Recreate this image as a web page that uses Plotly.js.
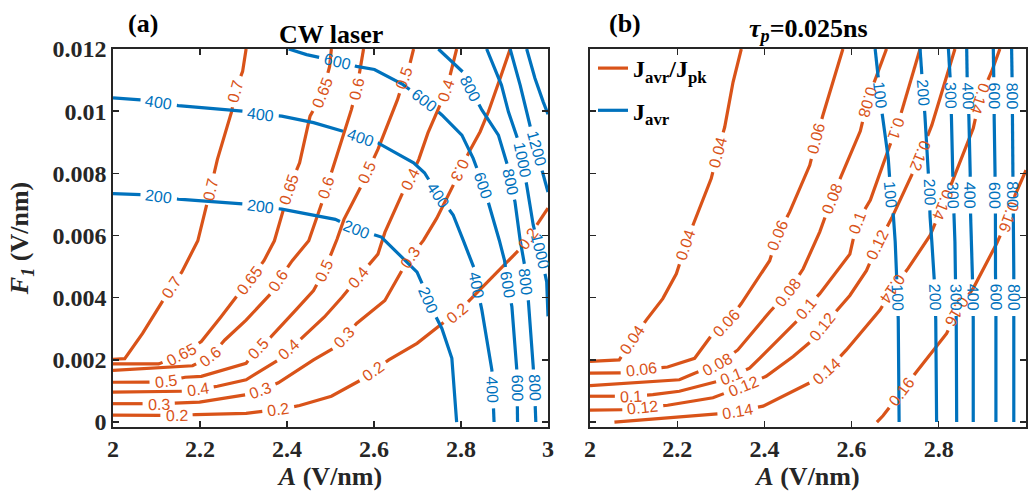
<!DOCTYPE html>
<html>
<head>
<meta charset="utf-8">
<script src="https://cdn.plot.ly/plotly-3.0.1.min.js"></script>
<style>
  html, body { margin: 0; padding: 0; background: #ffffff; }
  #chart { width: 1031px; height: 493px; }
</style>
</head>
<body>
<div id="chart"></div>
<script>
// Axis ticks
const xTickVals = [2, 2.2, 2.4, 2.6, 2.8, 3];
const xTickText = ['2', '2.2', '2.4', '2.6', '2.8', '3'];
const yTickVals = [0, 0.002, 0.004, 0.006, 0.008, 0.01, 0.012];
const yTickText = ['0', '0.002', '0.004', '0.006', '0.008', '0.01', '0.012'];

// ---- Panel (a), CW laser: J_avr/J_pk contour paths, vertices [A, F1] ----
const a_r020 = [[2.0,0.00022],[2.10,0.00022],[2.146,0.0002],[2.19,0.00024],[2.306,0.00028],[2.38,0.0004],[2.429,0.00053],[2.502,0.00083],[2.56,0.00126],[2.597,0.00163],[2.634,0.0020],[2.699,0.00253],[2.750,0.0031],[2.79,0.0035],[2.824,0.00398],[2.92,0.00532],[2.955,0.0059],[2.977,0.0064],[3.0,0.00688]];
const a_r030 = [[2.0,0.00059],[2.068,0.00059],[2.105,0.00057],[2.158,0.00062],[2.199,0.00064],[2.306,0.00088],[2.339,0.00103],[2.38,0.00126],[2.461,0.0020],[2.502,0.00232],[2.531,0.00272],[2.56,0.00317],[2.625,0.00391],[2.65,0.00455],[2.683,0.0053],[2.714,0.00585],[2.744,0.00655],[2.779,0.00752],[2.798,0.0081],[2.821,0.00875],[2.844,0.00934],[2.863,0.00998],[2.890,0.01106],[2.913,0.012]];
const a_r040 = [[2.0,0.00096],[2.162,0.00099],[2.195,0.00104],[2.24,0.00115],[2.306,0.00136],[2.371,0.00189],[2.404,0.00232],[2.437,0.00274],[2.486,0.00338],[2.527,0.00402],[2.564,0.00466],[2.609,0.0054],[2.625,0.0061],[2.642,0.00663],[2.658,0.00717],[2.683,0.00781],[2.703,0.00845],[2.724,0.0093],[2.747,0.01004],[2.766,0.01066],[2.779,0.01138],[2.79,0.012]];
const a_r050 = [[2.0,0.00128],[2.076,0.00128],[2.121,0.00131],[2.166,0.00144],[2.203,0.00147],[2.306,0.00189],[2.334,0.00237],[2.363,0.00274],[2.42,0.0036],[2.461,0.00423],[2.486,0.00487],[2.515,0.00588],[2.531,0.00652],[2.56,0.00727],[2.584,0.00802],[2.609,0.00877],[2.654,0.01037],[2.67,0.01107],[2.683,0.01155],[2.691,0.012]];
const a_r060 = [[2.0,0.00166],[2.183,0.00181],[2.224,0.00211],[2.257,0.00264],[2.306,0.00328],[2.363,0.00413],[2.38,0.00455],[2.412,0.00519],[2.45,0.00583],[2.478,0.00695],[2.49,0.00754],[2.502,0.00802],[2.527,0.00909],[2.548,0.01005],[2.56,0.0107],[2.568,0.01134],[2.576,0.012]];
const a_r065 = [[2.0,0.00187],[2.105,0.00187],[2.158,0.00216],[2.203,0.00259],[2.248,0.00338],[2.289,0.00413],[2.314,0.00455],[2.347,0.00519],[2.371,0.00583],[2.388,0.00663],[2.404,0.00749],[2.429,0.00834],[2.453,0.00984],[2.482,0.01059],[2.498,0.01144],[2.502,0.012]];
const a_r070 = [[2.0,0.00202],[2.027,0.00204],[2.068,0.00285],[2.101,0.0036],[2.134,0.00434],[2.158,0.00482],[2.195,0.00583],[2.211,0.00674],[2.224,0.00749],[2.240,0.00845],[2.273,0.0100],[2.281,0.01064],[2.298,0.01128],[2.306,0.012]];

// Panel (a): J_avr contour paths
const a_j200 = [[2.0,0.00735],[2.056,0.00733],[2.105,0.00724],[2.15,0.00717],[2.298,0.00702],[2.339,0.00693],[2.388,0.00685],[2.511,0.00652],[2.56,0.0062],[2.617,0.00595],[2.699,0.00482],[2.707,0.0046],[2.724,0.0039],[2.756,0.00301],[2.779,0.00205],[2.790,0.0]];
const a_j400 = [[2.0,0.01043],[2.056,0.01038],[2.105,0.01027],[2.15,0.01018],[2.298,0.0100],[2.339,0.00989],[2.388,0.00984],[2.461,0.00963],[2.519,0.00941],[2.568,0.00914],[2.609,0.00898],[2.691,0.00834],[2.716,0.00802],[2.748,0.0073],[2.782,0.00666],[2.805,0.00585],[2.830,0.00495],[2.836,0.0044],[2.848,0.0036],[2.871,0.00167],[2.873,0.00103],[2.876,0.0]];
const a_j600 = [[2.404,0.012],[2.445,0.01182],[2.515,0.0116],[2.56,0.01144],[2.601,0.01134],[2.666,0.01086],[2.716,0.01035],[2.756,0.00988],[2.802,0.00923],[2.828,0.00848],[2.851,0.00762],[2.867,0.00687],[2.888,0.00585],[2.90,0.0052],[2.908,0.0044],[2.917,0.00371],[2.928,0.00173],[2.929,0.0011],[2.930,0.0]];
const a_j800 = [[2.748,0.012],[2.802,0.01132],[2.821,0.01073],[2.848,0.01004],[2.886,0.00923],[2.905,0.00837],[2.913,0.00773],[2.924,0.00709],[2.936,0.00585],[2.945,0.0052],[2.949,0.0045],[2.955,0.00387],[2.966,0.00178],[2.969,0.0011],[2.972,0.0]];
const a_j1000 = [[2.859,0.012],[2.893,0.01084],[2.909,0.00998],[2.928,0.00923],[2.94,0.00843],[2.951,0.00762],[2.966,0.00634],[2.982,0.00548],[2.997,0.00451],[3.0,0.0034]];
const a_j1200 = [[2.913,0.012],[2.936,0.01084],[2.951,0.00998],[2.962,0.00934],[2.974,0.0088],[2.985,0.00816],[3.0,0.0074]];
const a_j1400 = [[2.951,0.012],[2.970,0.01106],[2.989,0.0103],[3.0,0.0099]];

// ---- Panel (b), tau_p = 0.025 ns: J_avr/J_pk contour paths ----
const b_r004 = [[2.0,0.00195],[2.067,0.002],[2.098,0.00264],[2.129,0.00328],[2.167,0.00397],[2.198,0.00477],[2.22,0.0057],[2.236,0.00633],[2.278,0.00783],[2.293,0.00868],[2.309,0.00949],[2.328,0.01093],[2.347,0.012]];
const b_r006 = [[2.0,0.00157],[2.064,0.00157],[2.117,0.00168],[2.178,0.00177],[2.24,0.00205],[2.282,0.00285],[2.312,0.00317],[2.347,0.00381],[2.412,0.00519],[2.43,0.006],[2.458,0.00676],[2.504,0.00826],[2.519,0.00911],[2.534,0.00986],[2.58,0.012]];
const b_r008 = [[2.0,0.00117],[2.205,0.00136],[2.24,0.00157],[2.293,0.00184],[2.339,0.00232],[2.412,0.00354],[2.454,0.00418],[2.489,0.00493],[2.527,0.00612],[2.555,0.0072],[2.58,0.00804],[2.62,0.00936],[2.636,0.0103],[2.657,0.01114],[2.68,0.012]];
const b_r010 = [[2.0,0.00083],[2.052,0.00083],[2.094,0.00083],[2.144,0.00088],[2.205,0.00099],[2.282,0.00126],[2.324,0.00147],[2.366,0.00173],[2.389,0.00205],[2.473,0.00322],[2.496,0.00365],[2.527,0.00413],[2.596,0.0054],[2.612,0.0064],[2.643,0.00714],[2.688,0.00891],[2.703,0.00945],[2.718,0.01014],[2.757,0.012]];
const b_r012 = [[2.0,0.00038],[2.064,0.00038],[2.121,0.00046],[2.178,0.00054],[2.282,0.00078],[2.351,0.00115],[2.404,0.00147],[2.466,0.00211],[2.519,0.00274],[2.534,0.00306],[2.573,0.0037],[2.596,0.00407],[2.634,0.00487],[2.66,0.0057],[2.692,0.00656],[2.738,0.00795],[2.757,0.00859],[2.784,0.00955],[2.837,0.012]];
const b_r014 = [[2.056,0.0],[2.282,0.00024],[2.339,0.00035],[2.397,0.00051],[2.504,0.00126],[2.542,0.00163],[2.588,0.00232],[2.665,0.0036],[2.695,0.0043],[2.73,0.00495],[2.78,0.006],[2.81,0.007],[2.837,0.00795],[2.879,0.00945],[2.894,0.0104],[2.921,0.01127],[2.94,0.012]];
const b_r016 = [[2.658,0.0],[2.672,0.0002],[2.715,0.00098],[2.749,0.00162],[2.818,0.00285],[2.841,0.00355],[2.879,0.0043],[2.933,0.00575],[2.96,0.0066],[2.975,0.0073],[3.0,0.0081]];

// Panel (b): J_avr contour paths
const b_j100 = [[2.654,0.012],[2.661,0.0111],[2.665,0.0105],[2.672,0.0097],[2.684,0.0085],[2.690,0.0073],[2.696,0.0066],[2.700,0.0058],[2.703,0.0048],[2.705,0.0040],[2.707,0.0033],[2.709,0.0]];
const b_j200 = [[2.757,0.012],[2.761,0.0112],[2.764,0.0106],[2.768,0.0099],[2.776,0.0080],[2.778,0.0074],[2.780,0.0066],[2.784,0.0058],[2.789,0.0048],[2.791,0.0040],[2.793,0.0033],[2.795,0.0]];
const b_j300 = [[2.822,0.012],[2.826,0.0111],[2.827,0.0105],[2.829,0.0098],[2.832,0.0080],[2.833,0.0073],[2.835,0.0066],[2.837,0.0058],[2.838,0.0048],[2.839,0.0040],[2.840,0.0033],[2.841,0.0]];
const b_j400 = [[2.864,0.012],[2.865,0.0111],[2.867,0.0105],[2.869,0.0098],[2.872,0.0080],[2.872,0.0073],[2.873,0.0066],[2.874,0.0058],[2.877,0.0048],[2.878,0.0040],[2.879,0.0033],[2.879,0.0]];
const b_j600 = [[2.925,0.012],[2.926,0.0111],[2.927,0.0105],[2.927,0.0098],[2.929,0.0080],[2.929,0.0073],[2.930,0.0066],[2.930,0.0058],[2.930,0.0048],[2.931,0.0040],[2.931,0.0033],[2.931,0.0]];
const b_j800 = [[2.967,0.012],[2.968,0.0111],[2.968,0.0105],[2.969,0.0098],[2.970,0.0080],[2.970,0.0073],[2.971,0.0066],[2.971,0.0058],[2.972,0.0048],[2.972,0.0040],[2.972,0.0033],[2.972,0.0]];

// Contour lists: [kind, level, path, vertex indices carrying an inline label, labels drawn upside down]
const contoursA = [
  ['r', 0.2,  a_r020, [2, 5, 9, 13, 16], []],
  ['r', 0.3,  a_r030, [2, 6, 10, 14, 18], [18]],
  ['r', 0.4,  a_r040, [2, 6, 10, 15, 19], []],
  ['r', 0.5,  a_r050, [2, 6, 10, 14, 17], []],
  ['r', 0.6,  a_r060, [2, 6, 10, 14], []],
  ['r', 0.65, a_r065, [2, 6, 10, 13], []],
  ['r', 0.7,  a_r070, [4, 8, 11], []],
  ['j', 200,  a_j200, [2, 5, 8, 12], []],
  ['j', 400,  a_j400, [2, 5, 9, 13, 17, 20], []],
  ['j', 600,  a_j600, [2, 6, 10, 14, 17], []],
  ['j', 800,  a_j800, [2, 6, 10, 13], []],
  ['j', 1000, a_j1000, [4, 7], []],
  ['j', 1200, a_j1200, [4], []],
  ['j', 1400, a_j1400, [], []]
];
const contoursB = [
  ['r', 0.04, b_r004, [2, 6, 9], []],
  ['r', 0.06, b_r006, [2, 6, 9, 12], []],
  ['r', 0.08, b_r008, [3, 6, 9, 12], [12]],
  ['r', 0.1,  b_r010, [2, 6, 10, 13, 16], [16]],
  ['r', 0.12, b_r012, [2, 5, 9, 13, 16], [16]],
  ['r', 0.14, b_r014, [2, 5, 8, 11, 14], [8, 11, 14]],
  ['r', 0.16, b_r016, [2, 5, 8], [5, 8]],
  ['j', 100, b_j100, [2, 5, 9], []],
  ['j', 200, b_j200, [2, 5, 9], []],
  ['j', 300, b_j300, [2, 5, 9], []],
  ['j', 400, b_j400, [2, 5, 9], []],
  ['j', 600, b_j600, [2, 5, 9], []],
  ['j', 800, b_j800, [2, 5, 9], []]
];

// ---- Figure geometry ----
const W = 1031, H = 493;
const serif = 'Liberation Serif, Times New Roman, serif';
const sans = 'Liberation Sans, Arial, sans-serif';
const ORANGE = '#D95319', BLUE = '#0072BD', AXC = '#262626';
const LABEL_SIZE = 16, LABEL_PAD = 5;
const xRange = [2, 3], yRange = [-0.00016, 0.012];
const domXA = [113 / W, 548 / W], domXB = [590 / W, 1026 / W];
const domY = [(H - 427) / H, (H - 49) / H];

// approximate advance width of a numeric label in the sans font
function labelWidth(txt) {
  let w = 0;
  for (const ch of txt) w += (ch === '.' ? 0.278 : 0.556);
  return w * LABEL_SIZE;
}

// Break a path where its inline labels sit, measuring arc length in screen pixels
function pathWithGaps(pts, labIdx, txt, sx, sy) {
  const S = [0];
  for (let k = 1; k < pts.length; k++) {
    S.push(S[k - 1] + Math.hypot((pts[k][0] - pts[k - 1][0]) * sx, (pts[k][1] - pts[k - 1][1]) * sy));
  }
  const half = labelWidth(txt) / 2 + LABEL_PAD;
  const cuts = labIdx.map(i => [S[i] - half, S[i] + half]);
  const inGap = s => cuts.some(c => s > c[0] && s < c[1]);
  const total = S[S.length - 1];
  const marks = new Set(S);
  cuts.forEach(c => { marks.add(Math.max(0, c[0])); marks.add(Math.min(total, c[1])); });
  const sorted = [...marks].sort((a, b) => a - b);
  function pointAt(s) {
    let k = 0;
    while (k < S.length - 2 && S[k + 1] < s) k++;
    const seg = S[k + 1] - S[k];
    const t = seg > 0 ? (s - S[k]) / seg : 0;
    return [pts[k][0] + t * (pts[k + 1][0] - pts[k][0]), pts[k][1] + t * (pts[k + 1][1] - pts[k][1])];
  }
  const xs = [], ys = [];
  for (let j = 0; j < sorted.length; j++) {
    const s = sorted[j];
    if (inGap(s)) continue;
    if (j > 0 && inGap((sorted[j - 1] + s) / 2) && xs.length) { xs.push(null); ys.push(null); }
    const p = pointAt(s);
    xs.push(p[0]); ys.push(p[1]);
  }
  return [xs, ys];
}

const traces = [];
const notes = [];
const legendShown = { r: false, j: false };

function addPanel(list, xa, ya, domX) {
  const sx = W * (domX[1] - domX[0]) / (xRange[1] - xRange[0]);
  const sy = H * (domY[1] - domY[0]) / (yRange[1] - yRange[0]);
  list.forEach(([kind, level, pts, labIdx, flips]) => {
    const color = kind === 'r' ? ORANGE : BLUE;
    const txt = String(level);
    const first = !legendShown[kind];
    legendShown[kind] = true;
    const [xs, ys] = pathWithGaps(pts, labIdx, txt, sx, sy);
    traces.push({
      type: 'scatter', mode: 'lines',
      x: xs, y: ys, connectgaps: false,
      xaxis: xa, yaxis: ya,
      line: { color: color, width: 3.2 },
      hoverinfo: 'skip',
      legendgroup: kind,
      showlegend: first,
      name: kind === 'r' ? '<b>J<sub>avr</sub>/J<sub>pk</sub></b>' : '<b>J<sub>avr</sub></b>'
    });
    // inline level labels, rotated along the local direction of the line
    labIdx.forEach(i => {
      const p0 = pts[Math.max(i - 1, 0)], p1 = pts[Math.min(i + 1, pts.length - 1)];
      const dx = (p1[0] - p0[0]) * sx, dy = -(p1[1] - p0[1]) * sy;
      let ang = Math.atan2(dy, dx) * 180 / Math.PI;
      while (ang > 90) ang -= 180;
      while (ang <= -90) ang += 180;
      if (flips.includes(i)) ang += 180;
      if (ang > 180) ang -= 360;
      notes.push({
        xref: xa, yref: ya, x: pts[i][0], y: pts[i][1],
        text: txt, showarrow: false, textangle: ang,
        font: { family: sans, size: LABEL_SIZE, color: color }
      });
    });
  });
}

// orange traces first so the legend lists J_avr/J_pk before J_avr
addPanel(contoursA.filter(c => c[0] === 'r'), 'x', 'y', domXA);
addPanel(contoursA.filter(c => c[0] === 'j'), 'x', 'y', domXA);
addPanel(contoursB.filter(c => c[0] === 'r'), 'x2', 'y2', domXB);
addPanel(contoursB.filter(c => c[0] === 'j'), 'x2', 'y2', domXB);

// Panel titles and tags
const titleFont = { family: serif, size: 26, color: '#000000', weight: 'bold' };
notes.push(
  { xref: 'paper', yref: 'paper', x: 143 / W, y: (H - 23) / H, text: '(a)', showarrow: false, xanchor: 'center', yanchor: 'middle', font: titleFont },
  { xref: 'paper', yref: 'paper', x: 330.5 / W, y: (H - 34) / H, text: 'CW laser', showarrow: false, xanchor: 'center', yanchor: 'middle', font: titleFont },
  { xref: 'paper', yref: 'paper', x: 625 / W, y: (H - 23) / H, text: '(b)', showarrow: false, xanchor: 'center', yanchor: 'middle', font: titleFont },
  { xref: 'paper', yref: 'paper', x: 808 / W, y: (H - 30) / H, text: '<i>τ</i><sub><i>p</i></sub>=0.025ns', showarrow: false, xanchor: 'center', yanchor: 'middle', font: titleFont }
);

const axisBase = {
  showline: true, linecolor: AXC, linewidth: 1.6, mirror: 'allticks',
  ticks: 'inside', ticklen: 6, tickwidth: 1.4, tickcolor: AXC,
  showgrid: false, zeroline: false, automargin: false,
  tickfont: { family: serif, size: 24, color: AXC, weight: 'bold' }
};
const xTitle = { text: '<i>A</i> (V/nm)', font: { family: serif, size: 26, color: AXC, weight: 'bold' }, standoff: 0 };

const layout = {
  width: W, height: H,
  margin: { l: 0, r: 0, t: 0, b: 0 },
  paper_bgcolor: '#ffffff', plot_bgcolor: '#ffffff',
  font: { family: serif },
  showlegend: true,
  legend: {
    x: 593 / W, xanchor: 'left', y: (H - 46) / H, yanchor: 'top',
    bgcolor: 'rgba(0,0,0,0)', traceorder: 'grouped', tracegroupgap: 8,
    font: { family: serif, size: 24, color: '#000000', weight: 'bold' }
  },
  xaxis: Object.assign({}, axisBase, { domain: domXA, range: xRange, anchor: 'y', tickvals: xTickVals, ticktext: xTickText, title: xTitle }),
  yaxis: Object.assign({}, axisBase, { domain: domY, range: yRange, anchor: 'x', tickvals: yTickVals, ticktext: yTickText,
    title: { text: '<i>F</i><sub><i>1</i></sub> (V/nm)', font: { family: serif, size: 26, color: AXC, weight: 'bold' }, standoff: 16 } }),
  xaxis2: Object.assign({}, axisBase, { domain: domXB, range: xRange, anchor: 'y2', tickvals: xTickVals, ticktext: xTickText, title: xTitle }),
  yaxis2: Object.assign({}, axisBase, { domain: domY, range: yRange, anchor: 'x2', tickvals: yTickVals, showticklabels: false }),
  annotations: notes,
  hovermode: false
};

Plotly.newPlot('chart', traces, layout, { staticPlot: true, displayModeBar: false });
</script>
</body>
</html>
